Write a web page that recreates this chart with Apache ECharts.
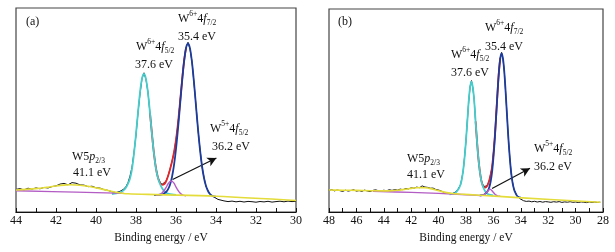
<!DOCTYPE html>
<html>
<head>
<meta charset="utf-8">
<script src="https://cdn.jsdelivr.net/npm/echarts@6/dist/echarts.min.js"></script>
<style>
html, body { margin: 0; padding: 0; background: #fff; }
#main { width: 615px; height: 252px; }
</style>
</head>
<body>
<div id="main"></div>
<script>
// binding energy (eV), intensity (a.u.)
// ---------- panel (a) ----------
const rawA = [
  [44.0,22.6],[43.8,23.4],[43.6,22.1],[43.4,23.8],[43.2,22.9],[43.0,24.1],[42.8,23.2],[42.6,24.6],[42.4,24.0],[42.2,25.4],
  [42.0,26.1],[41.8,27.9],[41.6,28.6],[41.4,27.2],[41.2,29.4],[41.0,28.8],[40.8,27.1],[40.6,26.9],[40.4,25.3],[40.2,25.8],
  [40.0,24.2],[39.8,23.9],[39.6,22.4],[39.4,21.6],[39.2,20.2],[39.0,19.4],
  [38.9,19.8],[38.8,20.7],[38.7,21.9],[38.6,23.0],[38.5,25.6],[38.4,29.4],[38.3,35.9],[38.2,44.8],[38.1,59.6],[38.0,77.1],
  [37.9,99.4],[37.8,118.2],[37.7,133.5],[37.6,139.2],[37.5,132.4],[37.4,119.6],[37.3,98.2],[37.2,78.3],[37.1,57.6],[37.0,43.5],
  [36.9,34.1],[36.8,29.8],[36.7,27.6],[36.6,28.0],[36.5,30.8],[36.4,36.1],[36.3,42.9],[36.2,50.8],[36.1,59.1],[36.0,72.6],
  [35.9,88.3],[35.8,110.1],[35.7,130.4],[35.6,151.1],[35.5,164.4],[35.4,169.6],[35.3,162.9],[35.2,150.3],[35.1,128.7],[35.0,106.6],
  [34.9,82.1],[34.8,63.0],[34.7,45.4],[34.6,34.6],[34.5,25.5],[34.4,21.4],[34.3,17.6],[34.2,16.2],[34.1,14.9],[34.0,13.8],
  [33.9,12.6],[33.8,11.8],[33.6,11.1],[33.4,10.4],[33.2,10.9],[33.0,10.2],[32.8,10.7],[32.6,10.0],[32.4,10.6],[32.2,10.3],
  [32.0,9.8],[31.8,10.5],[31.6,10.1],[31.4,10.7],[31.2,9.9],[31.0,10.4],[30.8,10.8],[30.6,10.2],[30.4,10.9],[30.2,10.4],[30.0,10.7]
];
const bgA = [
  [44,22.0],[43.5,22.6],[43,23.4],[42.5,24.6],[42,26.0],[41.6,26.9],[41.3,27.2],[41,27.0],[40.6,26.2],[40.2,25.0],
  [39.8,23.4],[39.4,21.5],[39.0,19.8],[38.7,18.8],[38.4,18.2],[37,17.4],[34,15.8],[30,11.5]
];
const baseA = [[44,21.2],[41,19.9],[39,18.9],[38.6,18.6]];
const w6f52A = [
  [39.2,18.0],[39.0,18.6],[38.8,19.6],[38.7,20.6],[38.6,22.1],[38.5,24.4],[38.4,28.4],[38.3,33.6],[38.2,43.0],[38.1,58.6],
  [38.0,78.1],[37.9,99.5],[37.8,119.4],[37.7,133.5],[37.6,138],[37.5,132.9],[37.4,118.8],[37.3,98.9],[37.2,77.5],[37.1,58],
  [37.0,43.2],[36.9,34],[36.8,28],[36.7,24],[36.6,21.2],[36.5,19.6],[36.4,18.5],[36.2,17.5],[36.0,17.1]
];
const w6f72A = [
  [37.1,16.9],[36.9,17.0],[36.7,17.6],[36.6,18.5],[36.5,20.0],[36.4,22.6],[36.3,27.2],[36.2,35.0],[36.1,46.8],[36.0,63.0],
  [35.9,83.3],[35.8,106.5],[35.7,129.8],[35.6,149.9],[35.5,163.7],[35.4,168.5],[35.3,163.6],[35.2,149.6],[35.1,129.4],[35.0,106.0],
  [34.9,82.8],[34.8,62.4],[34.7,46.0],[34.6,34.0],[34.5,26.0],[34.4,21.0],[34.3,18.0],[34.2,16.3],[34.1,15.6],[34.0,15.3]
];
const w5f52A = [
  [37.0,16.9],[36.9,17.0],[36.8,17.6],[36.7,19.1],[36.6,21.3],[36.5,24.3],[36.4,28.0],[36.3,30.5],[36.25,31.0],[36.2,30.8],
  [36.1,28.8],[36.0,25.0],[35.9,21.6],[35.8,19.0],[35.7,17.4],[35.6,16.6],[35.5,16.3]
];
const sumA = [
  [37.3,98.9],[37.2,77.5],[37.1,58.1],[37.0,43.5],[36.9,34.2],[36.8,29.3],[36.7,27.1],[36.6,27.6],[36.5,30.5],[36.4,35.7],
  [36.3,42.5],[36.2,50.2],[36.1,59.8],[36.0,72.1],[35.9,88.9],[35.8,109.4],[35.7,131.0],[35.6,150.4],[35.5,163.8]
];
const arrowA = [[36.17, 32.5], [33.98, 54]];

// ---------- panel (b) ----------
const rawB = [
  [48.0,21.6],[47.8,22.4],[47.6,21.1],[47.4,22.0],[47.2,21.3],[47.0,20.6],[46.8,21.8],[46.6,20.9],[46.4,21.5],[46.2,22.3],
  [46.0,20.8],[45.8,21.4],[45.6,20.6],[45.4,21.9],[45.2,21.0],[45.0,20.4],[44.8,21.6],[44.6,22.2],[44.4,21.3],[44.2,20.9],
  [44.0,21.8],[43.8,21.2],[43.6,22.3],[43.4,21.6],[43.2,22.4],[43.0,21.9],[42.8,22.9],[42.6,22.3],[42.4,23.5],[42.2,23.1],
  [42.0,24.2],[41.8,23.8],[41.6,24.9],[41.4,24.3],[41.2,26.1],[41.1,26.6],[41.0,25.0],[40.8,24.6],[40.6,23.8],[40.4,23.9],
  [40.2,22.5],[40.0,22.0],[39.8,20.9],[39.6,19.6],[39.4,19.2],[39.2,18.6],[39.0,18.5],
  [38.9,18.9],[38.8,19.6],[38.7,20.8],[38.6,22.4],[38.5,24.9],[38.4,27.1],[38.3,33.8],[38.2,41.6],[38.1,55.9],[38.0,71.4],
  [37.9,92.0],[37.8,110.6],[37.7,125.5],[37.6,131.4],[37.5,124.0],[37.4,111.7],[37.3,89.8],[37.2,72.0],[37.1,53.7],[37.0,41.9],
  [36.9,32.6],[36.8,28.0],[36.7,25.6],[36.6,25.1],[36.5,26.0],[36.4,28.1],[36.3,31.6],[36.2,38.0],[36.1,44.4],[36.0,58.6],
  [35.9,74.4],[35.8,97.0],[35.7,118.8],[35.6,140.5],[35.5,154.3],[35.4,159.6],[35.3,152.7],[35.2,140.0],[35.1,118.0],[35.0,95.6],
  [34.9,71.9],[34.8,54.2],[34.7,38.3],[34.6,29.8],[34.5,22.6],[34.4,19.8],[34.3,16.3],[34.2,15.0],[34.1,13.6],[34.0,12.5],
  [33.8,11.3],[33.6,10.6],[33.4,10.9],[33.2,10.2],[33.0,10.7],[32.8,10.0],[32.6,10.5],[32.4,9.8],[32.2,10.4],[32.0,10.1],
  [31.8,9.7],[31.6,10.3],[31.4,9.9],[31.2,10.4],[31.0,9.6],[30.8,10.1],[30.6,9.8],[30.4,10.3],[30.2,9.7],[30.0,10.0],
  [29.8,9.5],[29.6,10.1],[29.4,9.8],[29.2,9.4],[29.0,10.0],[28.8,9.6],[28.6,9.9],[28.4,9.5],[28.2,9.8]
];
const bgB = [
  [48,22.0],[47,21.8],[46,21.6],[45,21.3],[44,21.1],[43.4,21.3],[43,21.7],[42.5,22.6],[42,23.6],[41.6,24.2],
  [41.3,24.4],[41,24.2],[40.6,23.4],[40.2,22.0],[39.8,20.6],[39.4,19.4],[39.0,18.5],[38.5,18.0],[37,16.8],[34.2,14.4],[28.2,9.7]
];
const baseB = [[44.8,20.7],[42,19.6],[40,18.6],[38,17.3],[36.9,16.4]];
const w6f52B = [
  [39.2,17.7],[39.0,18.1],[38.9,18.5],[38.8,19.0],[38.7,20.2],[38.6,21.9],[38.5,24.2],[38.4,27.6],[38.3,33.0],[38.2,42.3],
  [38.1,55.0],[38.0,72.0],[37.9,91.2],[37.8,111.4],[37.7,124.8],[37.6,130.3],[37.5,124.6],[37.4,111.0],[37.3,90.6],[37.2,71.3],
  [37.1,54.3],[37.0,41.6],[36.9,32.5],[36.8,27.0],[36.7,23.3],[36.6,20.8],[36.5,19.0],[36.4,17.9],[36.2,17.0],[36.0,16.7]
];
const w6f72B = [
  [37.0,16.6],[36.8,16.8],[36.7,17.2],[36.6,18.2],[36.5,19.5],[36.4,21.4],[36.3,24.8],[36.2,30.5],[36.1,39.5],[36.0,54.2],
  [35.9,73.0],[35.8,95.5],[35.7,119.0],[35.6,139.6],[35.5,153.6],[35.4,158.7],[35.3,153.4],[35.2,139.3],[35.1,118.6],[35.0,95.0],
  [34.9,72.5],[34.8,53.6],[34.7,38.9],[34.6,29.2],[34.5,23.1],[34.4,19.3],[34.3,16.8],[34.2,15.2],[34.0,14.3]
];
const w5f52B = [
  [37.0,16.4],[36.9,16.4],[36.8,16.6],[36.7,17.1],[36.6,18.1],[36.5,19.5],[36.4,21.1],[36.3,22.4],[36.25,22.7],[36.2,22.5],
  [36.1,21.3],[36.0,19.6],[35.9,18.0],[35.8,16.8],[35.7,16.1],[35.6,15.8],[35.5,15.7]
];
const sumB = [
  [37.3,90.6],[37.2,71.3],[37.1,54.4],[37.0,41.8],[36.9,32.7],[36.8,27.6],[36.7,24.8],[36.6,24.3],[36.5,25.2],[36.4,27.6],
  [36.3,31.7],[36.2,37.3],[36.1,45.0],[36.0,57.9],[35.9,75.0],[35.8,96.3],[35.7,119.2],[35.6,139.8],[35.5,153.8]
];
const arrowB = [[36.1, 23.5], [33.33, 43.7]];

const FONT = 'Liberation Serif';
const C_RAW = '#111111', C_BG = '#e3dc3a', C_BASE = '#b25cc4', C_CYAN = '#46cccc',
      C_BLUE = '#1d3c9c', C_RED = '#e3262a', C_W5 = '#b55cc8';

const chart = echarts.init(document.getElementById('main'), null, { renderer: 'canvas' });

function line (gi, data, color, width, z, smooth) {
  return {
    type: 'line', xAxisIndex: gi, yAxisIndex: gi, data: data, z: z,
    showSymbol: false, smooth: smooth ? 0.35 : false, silent: true,
    lineStyle: { color: color, width: width }
  };
}

function arrow (gi, pts) {
  return {
    type: 'line', xAxisIndex: gi, yAxisIndex: gi, data: [], z: 20, silent: true,
    markLine: {
      silent: true, symbol: ['none', 'arrow'], symbolSize: [7, 9], animation: false,
      label: { show: false },
      lineStyle: { color: '#111', width: 1.2, type: 'solid' },
      data: [[{ coord: pts[0] }, { coord: pts[1] }]]
    }
  };
}

function xAxis (gi, min, max, shift) {
  return {
    gridIndex: gi, type: 'value', inverse: true, min: min, max: max, interval: 2,
    name: 'Binding energy / eV', nameLocation: 'middle', nameGap: 19,
    nameTextStyle: { color: '#111', fontFamily: FONT, fontSize: 11.5, padding: [0, 0, 0, shift] },
    axisLine: { lineStyle: { color: '#111', width: 1.2 } },
    axisTick: { inside: true, length: 4, lineStyle: { color: '#111' } },
    minorTick: { show: true, splitNumber: 2, length: 4, lineStyle: { color: '#111' } },
    axisLabel: { color: '#111', fontFamily: FONT, fontSize: 12, margin: 3 },
    splitLine: { show: false }
  };
}

const rich = {
  n: { fontFamily: FONT, fontSize: 12, lineHeight: 17, fill: '#111' },
  i: { fontFamily: FONT, fontSize: 12, lineHeight: 17, fontStyle: 'italic', fill: '#111' },
  sup: { fontFamily: FONT, fontSize: 7.5, lineHeight: 8, verticalAlign: 'top', fill: '#111' },
  sub: { fontFamily: FONT, fontSize: 7.5, lineHeight: 8, verticalAlign: 'bottom', fill: '#111' }
};

function tag (x, y, text) {
  return {
    type: 'text', x: x, y: y, z: 100, silent: true,
    style: { text: text, rich: rich, fill: '#111', font: '12px "' + FONT + '"', verticalAlign: 'middle' }
  };
}

const W6F72 = '{n|W}{sup|6+}{n|4}{i|f}{sub|7/2}';
const W6F52 = '{n|W}{sup|6+}{n|4}{i|f}{sub|5/2}';
const W5F52 = '{n|W}{sup|5+}{n|4}{i|f}{sub|5/2}';
const W5P = '{n|W5}{i|p}{sub|2/3}';

chart.setOption({
  animation: false,
  backgroundColor: '#fff',
  grid: [
    { left: 16, top: 8, width: 280, height: 204, show: true, borderColor: '#444', borderWidth: 1.2 },
    { left: 329, top: 9, width: 274, height: 203, show: true, borderColor: '#444', borderWidth: 1.2 }
  ],
  xAxis: [xAxis(0, 30, 44, 10), xAxis(1, 28, 48, 0)],
  yAxis: [
    { gridIndex: 0, type: 'value', min: 0, max: 204, show: false },
    { gridIndex: 1, type: 'value', min: 0, max: 203, show: false }
  ],
  series: [
    line(0, rawA, C_RAW, 1, 2, false),
    line(0, sumA, C_RED, 1.8, 3, true),
    line(0, w6f52A, C_CYAN, 1.8, 4, true),
    line(0, w6f72A, C_BLUE, 1.8, 5, true),
    line(0, w5f52A, C_W5, 1.4, 6, true),
    line(0, baseA, C_BASE, 1.4, 6, true),
    line(0, bgA, C_BG, 1.6, 7, true),
    arrow(0, arrowA),
    line(1, rawB, C_RAW, 1, 2, false),
    line(1, sumB, C_RED, 1.8, 3, true),
    line(1, w6f52B, C_CYAN, 1.8, 4, true),
    line(1, w6f72B, C_BLUE, 1.8, 5, true),
    line(1, w5f52B, C_W5, 1.4, 6, true),
    line(1, baseB, C_BASE, 1.4, 6, true),
    line(1, bgB, C_BG, 1.6, 7, true),
    arrow(1, arrowB)
  ],
  graphic: [
    { type: 'text', x: 26, y: 22, style: { text: '(a)', fill: '#111', font: '12px "' + FONT + '"', verticalAlign: 'middle' } },
    tag(178, 19, W6F72), tag(178, 37, '{n|35.4 eV}'),
    tag(136, 47, W6F52), tag(135, 65, '{n|37.6 eV}'),
    tag(210, 129, W5F52), tag(212, 147, '{n|36.2 eV}'),
    tag(72, 157, W5P), tag(73, 173, '{n|41.1 eV}'),
    { type: 'text', x: 338, y: 22, style: { text: '(b)', fill: '#111', font: '12px "' + FONT + '"', verticalAlign: 'middle' } },
    tag(485, 28, W6F72), tag(485, 47, '{n|35.4 eV}'),
    tag(451, 55, W6F52), tag(451, 73, '{n|37.6 eV}'),
    tag(534, 149, W5F52), tag(534, 167, '{n|36.2 eV}'),
    tag(407, 159, W5P), tag(407, 175, '{n|41.1 eV}')
  ]
});
</script>
</body>
</html>
